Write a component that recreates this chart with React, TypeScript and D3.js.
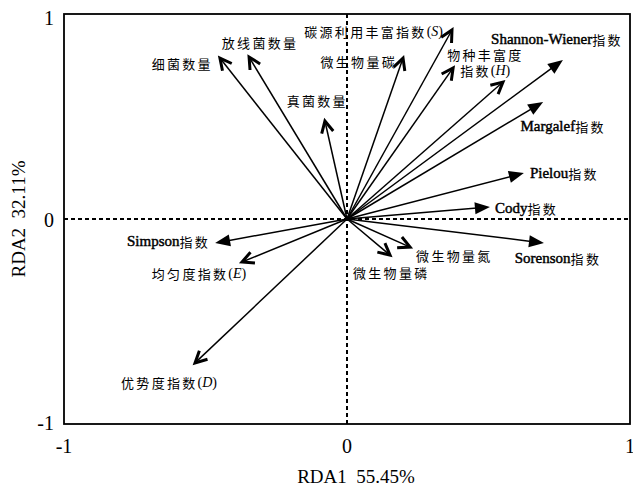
import * as d3 from 'd3';

// RDA loadings (axis 1, axis 2)
const variables = [
  '细菌数量',
  '放线菌数量',
  '真菌数量',
  '碳源利用丰富指数(*S*)',
  '微生物量碳',
  '物种丰富度\n指数(*H*)',
  '',
  'Shannon-Wiener指数',
  'Margalef指数',
  'Pielou指数',
  'Cody指数',
  'Sorenson指数',
  '微生物量氮',
  '微生物量磷',
  'Simpson指数',
  '均匀度指数(*E*)',
  '优势度指数(*D*)',
];
const rda1 = [-0.449, -0.346, -0.078, 0.371, 0.198, 0.375, 0.551, 0.763, 0.693, 0.625, 0.505, 0.696, 0.223, 0.152, -0.466, -0.371, -0.537];
const rda2 = [0.785, 0.790, 0.478, 0.922, 0.785, 0.737, 0.668, 0.776, 0.571, 0.224, 0.059, -0.117, -0.137, -0.176, -0.117, -0.210, -0.702];
const filledHeads = ['Shannon-Wiener指数', 'Margalef指数', 'Pielou指数', 'Cody指数', 'Sorenson指数', 'Simpson指数'];

const xTicks = [-1, 0, 1];
const yTicks = [-1, 0, 1];
const xTitle = 'RDA1  55.45%';
const yTitle = 'RDA2  32.11%';

// where each label sits relative to its arrow tip (px)
type LineSpot = { dx: number; dy: number };
const labelSpots: Record<string, { anchor: 'start' | 'middle' | 'end'; lines: LineSpot[] }> = {
  '细菌数量': { anchor: 'end', lines: [{ dx: -7, dy: 5 }] },
  '放线菌数量': { anchor: 'middle', lines: [{ dx: 11, dy: -15 }] },
  '真菌数量': { anchor: 'end', lines: [{ dx: 23, dy: -21 }] },
  '碳源利用丰富指数(*S*)': { anchor: 'end', lines: [{ dx: -9, dy: 1 }] },
  '微生物量碳': { anchor: 'end', lines: [{ dx: -6, dy: 3 }] },
  '物种丰富度\n指数(*H*)': { anchor: 'start', lines: [{ dx: -6, dy: -14 }, { dx: 7, dy: 2 }] },
  'Shannon-Wiener指数': { anchor: 'middle', lines: [{ dx: -6, dy: -21 }] },
  'Margalef指数': { anchor: 'middle', lines: [{ dx: 20, dy: 24 }] },
  'Pielou指数': { anchor: 'start', lines: [{ dx: 6, dy: 0 }] },
  'Cody指数': { anchor: 'start', lines: [{ dx: 5, dy: 1 }] },
  'Sorenson指数': { anchor: 'middle', lines: [{ dx: 14, dy: 15 }] },
  '微生物量氮': { anchor: 'start', lines: [{ dx: 6, dy: 8 }] },
  '微生物量磷': { anchor: 'start', lines: [{ dx: -37, dy: 17 }] },
  'Simpson指数': { anchor: 'end', lines: [{ dx: -5, dy: -2 }] },
  '均匀度指数(*E*)': { anchor: 'middle', lines: [{ dx: -43, dy: 11 }] },
  '优势度指数(*D*)': { anchor: 'middle', lines: [{ dx: -26, dy: 19 }] },
};

const W = 633;
const H = 488;
const serif = '"Liberation Serif", "Times New Roman", serif';
const cjk = '"Noto Sans CJK SC", "Noto Sans", sans-serif';

// split a label into CJK / latin / italic runs so each gets its own face
function Segments({ text }: { text: string }) {
  const parts = text.match(/\*[^*]+\*|[\u4e00-\u9fff]+|[^\u4e00-\u9fff*]+/g) ?? [];
  return (
    <>
      {parts.map((p, i) => {
        if (p.startsWith('*')) {
          return (
            <tspan key={i} fontFamily={serif} fontStyle="italic" fontSize={14}>
              {p.slice(1, -1)}
            </tspan>
          );
        }
        if (/[\u4e00-\u9fff]/.test(p)) {
          return (
            <tspan key={i} fontFamily={cjk} fontSize={13} letterSpacing={2.3}>
              {p}
            </tspan>
          );
        }
        const plain = /^[()]+$/.test(p);
        return plain ? (
          <tspan key={i} fontFamily={serif} fontSize={14}>
            {p}
          </tspan>
        ) : (
          // semibold look: regular face with a thin outline
          <tspan key={i} fontFamily={serif} fontSize={15} stroke="#000" strokeWidth={0.45}>
            {p}
          </tspan>
        );
      })}
    </>
  );
}

export default function App() {
  const x = d3.scaleLinear().domain([-1, 1]).range([64, 630]);
  const y = d3.scaleLinear().domain([-1, 1]).range([424, 14]);
  const ox = x(0);
  const oy = y(0);

  const arrows = variables.map((name, i) => {
    const tx = x(rda1[i]);
    const ty = y(rda2[i]);
    const ang = Math.atan2(ty - oy, tx - ox);
    const filled = filledHeads.includes(name);
    return { name, tx, ty, ang, filled };
  });

  const headLen = 13;
  const spread = (27 * Math.PI) / 180;

  return (
    <svg
      width={W}
      height={H}
      viewBox={`0 0 ${W} ${H}`}
      style={{ position: 'absolute', left: 0, top: 0, background: '#fff' }}
    >
      <rect x={0} y={0} width={W} height={H} fill="#fff" />

      {/* zero lines */}
      <line x1={x(-1)} x2={x(1)} y1={oy} y2={oy} stroke="#000" strokeWidth={2} strokeDasharray="4 3" />
      <line x1={ox} x2={ox} y1={y(1)} y2={y(-1)} stroke="#000" strokeWidth={2} strokeDasharray="4 3" />

      {/* frame */}
      <rect x={x(-1)} y={y(1)} width={x(1) - x(-1)} height={y(-1) - y(1)} fill="none" stroke="#000" strokeWidth={1.8} />

      {/* arrows */}
      {arrows.map((a, i) => {
        const c = Math.cos(a.ang);
        const s = Math.sin(a.ang);
        if (a.filled) {
          const len = 15;
          const hw = 6;
          const bx = a.tx - c * len;
          const by = a.ty - s * len;
          const pts = [
            [a.tx, a.ty],
            [bx - s * hw, by + c * hw],
            [bx + s * hw, by - c * hw],
          ];
          return (
            <g key={i}>
              <line x1={ox} y1={oy} x2={bx + c * 2} y2={by + s * 2} stroke="#000" strokeWidth={1.5} />
              <polygon points={pts.map((p) => p.join(',')).join(' ')} fill="#000" />
            </g>
          );
        }
        const p1 = [a.tx - headLen * Math.cos(a.ang - spread), a.ty - headLen * Math.sin(a.ang - spread)];
        const p2 = [a.tx - headLen * Math.cos(a.ang + spread), a.ty - headLen * Math.sin(a.ang + spread)];
        return (
          <g key={i}>
            <line x1={ox} y1={oy} x2={a.tx} y2={a.ty} stroke="#000" strokeWidth={1.5} />
            <path
              d={`M${p1[0]},${p1[1]}L${a.tx},${a.ty}L${p2[0]},${p2[1]}`}
              fill="none"
              stroke="#000"
              strokeWidth={3}
              strokeLinejoin="miter"
            />
          </g>
        );
      })}

      {/* arrow labels */}
      {arrows.map((a, i) => {
        const spot = labelSpots[a.name];
        if (!spot) return null;
        return a.name.split('\n').map((line, j) => (
          <text
            key={`${i}-${j}`}
            x={a.tx + spot.lines[j].dx}
            y={a.ty + spot.lines[j].dy}
            textAnchor={spot.anchor}
            dominantBaseline="central"
            fill="#000"
          >
            <Segments text={line} />
          </text>
        ));
      })}

      {/* tick labels */}
      {xTicks.map((t) => (
        <text key={`x${t}`} x={x(t)} y={446} textAnchor="middle" dominantBaseline="central" fontFamily={serif} fontSize={20}>
          {t}
        </text>
      ))}
      {yTicks.map((t) => (
        <text
          key={`y${t}`}
          x={54}
          y={t === 1 ? y(t) + 4 : t === -1 ? y(t) - 1 : y(t) + 1}
          textAnchor="end"
          dominantBaseline="central"
          fontFamily={serif}
          fontSize={20}
        >
          {t}
        </text>
      ))}

      {/* axis titles */}
      <text x={356} y={476} textAnchor="middle" dominantBaseline="central" fontFamily={serif} fontSize={19} style={{ whiteSpace: 'pre' }}>
        {xTitle}
      </text>
      <text
        transform={`translate(18,${oy}) rotate(-90)`}
        textAnchor="middle"
        dominantBaseline="central"
        fontFamily={serif}
        fontSize={19}
        style={{ whiteSpace: 'pre' }}
      >
        {yTitle}
      </text>
    </svg>
  );
}
